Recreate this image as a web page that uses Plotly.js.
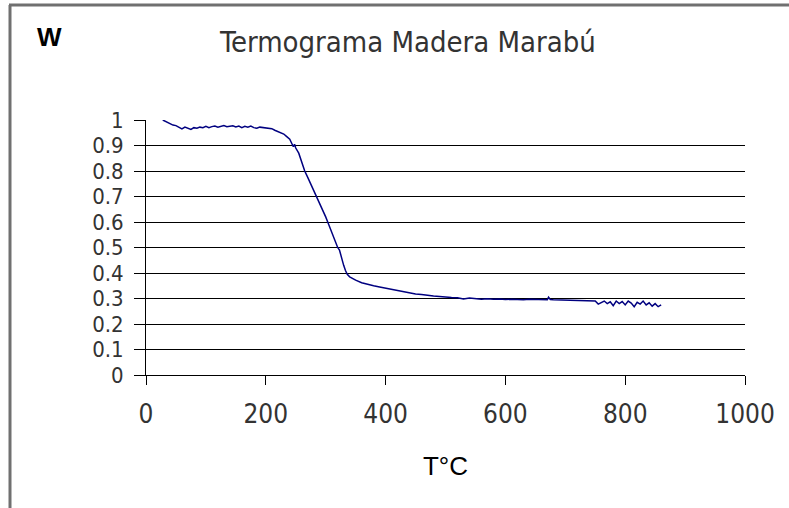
<!DOCTYPE html>
<html>
<head>
<meta charset="utf-8">
<script src="https://cdn.plot.ly/plotly-3.0.1.min.js"></script>
<style>html,body{margin:0;padding:0;background:#fff;}#chart{width:789px;height:508px;}</style>
</head>
<body>
<div id="chart"></div>
<script>
const chartTitle = "Termograma Madera Marabú";
const xTitle = "T°C";
const yTitle = "W";
const xTickVals = [0, 200, 400, 600, 800, 1000];
const yTickVals = [0, 0.1, 0.2, 0.3, 0.4, 0.5, 0.6, 0.7, 0.8, 0.9, 1];

const temperature = [28, 32, 36, 40, 45, 50, 55, 60, 65, 70, 75, 80, 85, 90, 95, 100, 105, 110, 115, 120,
  125, 130, 135, 140, 145, 150, 155, 160, 165, 170, 175, 180, 185, 190, 195, 200, 205, 210, 215, 220,
  225, 230, 235, 240, 243, 246, 248, 250, 255, 260, 265, 270, 275, 280, 285, 290, 295, 300, 305, 310,
  315, 320, 323, 326, 330, 333, 336, 340, 345, 350, 360, 370, 380, 390, 400, 410, 420, 430, 440, 450,
  460, 470, 480, 490, 500, 510, 520, 530, 540, 550, 560, 570, 580, 590, 600, 610, 620, 630, 640, 650,
  660, 670, 672, 675, 680, 690, 700, 710, 720, 730, 740, 750, 755, 760, 765, 770, 775, 780, 785, 790,
  795, 800, 805, 810, 815, 820, 825, 830, 835, 840, 845, 850, 855, 860];
const weight = [1.0, 0.995, 0.99, 0.985, 0.98, 0.978, 0.97, 0.965, 0.972, 0.966, 0.963, 0.97, 0.968, 0.972, 0.97, 0.975, 0.97, 0.974, 0.976, 0.972,
  0.975, 0.978, 0.974, 0.976, 0.977, 0.973, 0.976, 0.97, 0.975, 0.972, 0.976, 0.97, 0.968, 0.972, 0.97, 0.968, 0.968, 0.966, 0.96, 0.955,
  0.95, 0.945, 0.935, 0.925, 0.91, 0.895, 0.905, 0.89, 0.87, 0.835, 0.8, 0.775, 0.75, 0.72, 0.7, 0.675, 0.65, 0.62, 0.59, 0.56,
  0.53, 0.5, 0.49, 0.46, 0.43, 0.41, 0.395, 0.385, 0.378, 0.372, 0.362, 0.355, 0.35, 0.345, 0.34, 0.335, 0.332, 0.325, 0.322, 0.318,
  0.316, 0.312, 0.31, 0.308, 0.305, 0.304, 0.303, 0.298, 0.302, 0.3, 0.297, 0.299, 0.297, 0.298, 0.296, 0.297, 0.296, 0.295, 0.297, 0.296,
  0.297, 0.295, 0.305, 0.296, 0.295, 0.294, 0.295, 0.293, 0.294, 0.293, 0.292, 0.29, 0.278, 0.285, 0.29, 0.28, 0.287, 0.272, 0.29, 0.28,
  0.288, 0.275, 0.29, 0.282, 0.268, 0.285, 0.278, 0.29, 0.275, 0.283, 0.27, 0.28, 0.268, 0.275];

const narrow = "DejaVu Sans Condensed, Liberation Sans Narrow, sans-serif";
const arial = "Liberation Sans, Arial, sans-serif";

const trace = {
  x: temperature, y: weight, type: 'scatter', mode: 'lines',
  line: {color: '#000080', width: 1.5}, hoverinfo: 'skip', showlegend: false
};

// pixel helpers for frame (plot area: x 146..745, y 120..375)
const px = p => (p - 146) / 599;
const py = p => (375 - p) / 255;

const layout = {
  width: 789, height: 508,
  margin: {l: 146, r: 44, t: 120, b: 133},
  paper_bgcolor: '#ffffff', plot_bgcolor: '#ffffff',
  title: {text: chartTitle, font: {family: narrow, size: 29, color: '#333'},
          xref: 'container', yref: 'container', x: 0.517, xanchor: 'center', y: 1 - 42/508, yanchor: 'middle'},
  xaxis: {
    range: [0, 1000], tickvals: xTickVals, ticktext: xTickVals.map(String),
    showgrid: false, zeroline: false, showline: true, linecolor: '#000', linewidth: 1,
    ticks: 'outside', ticklen: 9, tickcolor: '#000', tickwidth: 1,
    ticklabelstandoff: 7,
    tickfont: {family: narrow, size: 26, color: '#333'},
    title: {text: xTitle, font: {family: arial, size: 26, color: '#000'}, standoff: 28}
  },
  yaxis: {
    range: [0, 1], tickvals: yTickVals, ticktext: yTickVals.map(String),
    showgrid: true, gridcolor: '#000', gridwidth: 1, zeroline: false,
    showline: true, linecolor: '#000', linewidth: 1,
    ticks: 'outside', ticklen: 11, tickcolor: '#000', tickwidth: 1,
    ticklabelstandoff: 6,
    tickfont: {family: narrow, size: 22, color: '#333'}
  },
  annotations: [{
    text: yTitle, xref: 'paper', yref: 'paper', x: px(49), y: py(37),
    xanchor: 'center', yanchor: 'middle', showarrow: false,
    font: {family: arial, size: 26, weight: 'bold', color: '#000'}
  }],
  shapes: [
    {type: 'line', xref: 'paper', yref: 'paper', x0: px(9), x1: px(800), y0: py(5), y1: py(5), line: {color: '#707070', width: 3}},
    {type: 'line', xref: 'paper', yref: 'paper', x0: px(10), x1: px(10), y0: py(5), y1: py(520), line: {color: '#707070', width: 3}}
  ]
};

Plotly.newPlot('chart', [trace], layout, {displayModeBar: false, staticPlot: true});
</script>
</body>
</html>
